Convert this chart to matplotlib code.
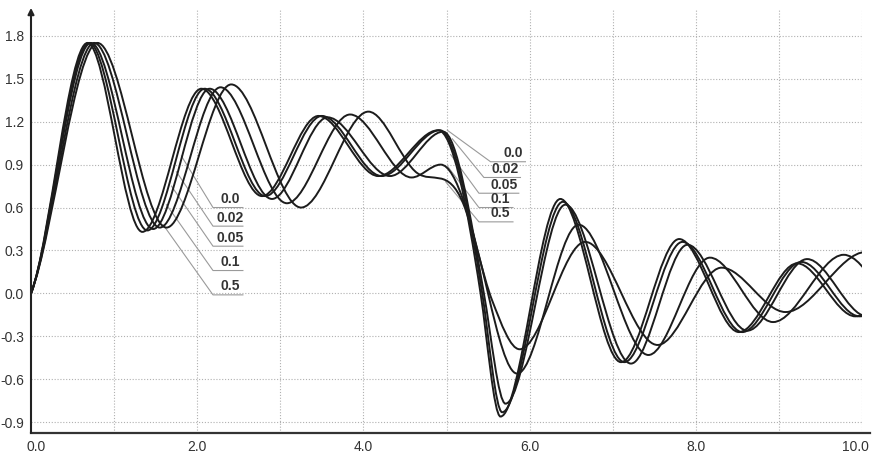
import matplotlib
matplotlib.use("Agg")
import matplotlib.pyplot as plt
from matplotlib.path import Path
from matplotlib.patches import PathPatch
from matplotlib.lines import Line2D
from matplotlib.transforms import ScaledTranslation

# Curve labels (parameter value of each response)
labels = ["0.0", "0.02", "0.05", "0.1", "0.5"]

# Knots of each response: time, value and slope (extrema have zero slope)
t_00 = [0.00, 0.68, 1.34, 2.05, 2.78, 3.46, 4.18, 4.90, 5.41, 5.65, 6.37, 7.10, 7.80, 8.52, 9.22, 9.92, 10.62]
y_00 = [0.00, 1.75, 0.43, 1.43, 0.68, 1.24, 0.82, 1.14, 0.00, -0.86, 0.66, -0.48, 0.38, -0.27, 0.21, -0.16, 0.12]
m_00 = [1.5, 0, 0, 0, 0, 0, 0, 0, -3.8, 0, 0, 0, 0, 0, 0, 0, 0]

t_02 = [0.00, 0.70, 1.40, 2.09, 2.82, 3.50, 4.22, 4.92, 5.43, 5.67, 6.40, 7.14, 7.84, 8.56, 9.27, 9.97, 10.67]
y_02 = [0.00, 1.75, 0.44, 1.43, 0.68, 1.24, 0.82, 1.14, 0.00, -0.83, 0.64, -0.48, 0.36, -0.27, 0.22, -0.16, 0.12]
m_02 = [1.5, 0, 0, 0, 0, 0, 0, 0, -3.7, 0, 0, 0, 0, 0, 0, 0, 0]

t_05 = [0.00, 0.72, 1.47, 2.15, 2.90, 3.57, 4.32, 4.96, 5.45, 5.71, 6.43, 7.22, 7.90, 8.62, 9.34, 10.06, 10.76]
y_05 = [0.00, 1.75, 0.45, 1.43, 0.66, 1.23, 0.82, 1.13, 0.00, -0.77, 0.62, -0.49, 0.34, -0.26, 0.24, -0.16, 0.12]
m_05 = [1.5, 0, 0, 0, 0, 0, 0, 0, -3.3, 0, 0, 0, 0, 0, 0, 0, 0]

t_1 = [0.00, 0.76, 1.55, 2.28, 3.08, 3.84, 4.58, 4.93, 5.50, 5.85, 6.59, 7.43, 8.17, 8.93, 9.78, 10.60]
y_1 = [0.00, 1.75, 0.46, 1.44, 0.63, 1.25, 0.81, 0.90, 0.00, -0.56, 0.48, -0.43, 0.25, -0.20, 0.27, -0.18]
m_1 = [1.5, 0, 0, 0, 0, 0, 0, 0, -2.5, 0, 0, 0, 0, 0, 0, 0]

t_5 = [0.00, 0.80, 1.63, 2.41, 3.25, 4.06, 4.65, 5.20, 5.55, 5.88, 6.67, 7.54, 8.31, 9.08, 10.05]
y_5 = [0.00, 1.75, 0.46, 1.46, 0.60, 1.27, 0.84, 0.63, -0.05, -0.39, 0.36, -0.36, 0.18, -0.13, 0.29]
m_5 = [1.5, 0, 0, 0, 0, 0, -0.4, -1.4, -1.5, 0, 0, 0, 0, 0, 0]

curves = [(t_00, y_00, m_00), (t_02, y_02, m_02), (t_05, y_05, m_05),
          (t_1, y_1, m_1), (t_5, y_5, m_5)]

# Axis ticks
x_ticks = [0, 1, 2, 3, 4, 5, 6, 7, 8, 9, 10]
x_tick_labels = ["0.0", "", "2.0", "", "4.0", "", "6.0", "", "8.0", "", "10.0"]
y_ticks = [-0.9, -0.6, -0.3, 0.0, 0.3, 0.6, 0.9, 1.2, 1.5, 1.8]
y_tick_labels = ["-0.9", "-0.6", "-0.3", "0.0", "0.3", "0.6", "0.9", "1.2", "1.5", "1.8"]

# Label callouts: leader start, leader end (underline start), underline end x
left_starts = [(1.81, 0.96), (1.75, 0.85), (1.69, 0.75), (1.63, 0.62), (1.59, 0.48)]
left_ends_y = [0.60, 0.47, 0.33, 0.16, -0.01]
left_end_x = 2.19
left_under_x = 2.55
left_text_x = 2.40

right_starts = [(5.01, 1.14), (5.07, 1.08), (5.05, 0.97), (5.01, 0.89), (4.99, 0.78)]
right_ends = [(5.53, 0.92), (5.45, 0.81), (5.39, 0.70), (5.39, 0.60), (5.39, 0.50)]
right_under_x = [5.95, 5.89, 5.87, 5.80, 5.80]
right_text_x = [5.80, 5.71, 5.69, 5.65, 5.65]


def smooth_path(ts, ys, ms):
    """Cubic Hermite knots expressed as a Bezier path."""
    verts = [(ts[0], ys[0])]
    codes = [Path.MOVETO]
    for i in range(len(ts) - 1):
        dt = ts[i + 1] - ts[i]
        verts += [(ts[i] + dt / 3, ys[i] + ms[i] * dt / 3),
                  (ts[i + 1] - dt / 3, ys[i + 1] - ms[i + 1] * dt / 3),
                  (ts[i + 1], ys[i + 1])]
        codes += [Path.CURVE4] * 3
    return Path(verts, codes)


plt.rcParams["font.family"] = ["Liberation Sans", "DejaVu Sans"]

fig = plt.figure(figsize=(8.78, 4.55), dpi=100)
ax = fig.add_axes([31 / 878, 22 / 455, 831 / 878, 423 / 455])
ax.set_xlim(0, 10)
ax.set_ylim(-0.975, 1.98)

grid_kw = dict(color="#b0b0b0", lw=0.8, linestyle=(0, (1, 1.6)), zorder=1)
for x in x_ticks[1:]:
    ax.axvline(x, **grid_kw)
for y in y_ticks:
    ax.axhline(y, **grid_kw)

for ts, ys, ms in curves:
    ax.add_patch(PathPatch(smooth_path(ts, ys, ms), fill=False,
                           edgecolor="#1c1c1c", lw=1.4, zorder=3))

lead_kw = dict(color="#9a9a9a", lw=0.8, zorder=2)
txt_kw = dict(fontsize=10, fontweight="bold", color="#333333",
              ha="center", va="bottom", zorder=4)
for lab, (sx, sy), ey in zip(labels, left_starts, left_ends_y):
    ax.plot([sx, left_end_x, left_under_x], [sy, ey, ey], **lead_kw)
    ax.text(left_text_x, ey + 0.01, lab, **txt_kw)
for lab, (sx, sy), (ex, ey), ux, tx in zip(labels, right_starts, right_ends,
                                           right_under_x, right_text_x):
    ax.plot([sx, ex, ux], [sy, ey, ey], **lead_kw)
    ax.text(tx, ey + 0.01, lab, **txt_kw)

ax.set_xticks(x_ticks)
ax.set_xticklabels(x_tick_labels)
ax.set_yticks(y_ticks)
ax.set_yticklabels(y_tick_labels)
ax.tick_params(length=0, labelsize=10, labelcolor="#333333")
ax.tick_params(axis="y", pad=5)
ax.tick_params(axis="x", pad=5)

# Nudge the first and last x labels so they sit inside the frame
xlabels = ax.get_xticklabels()
xlabels[0].set_transform(xlabels[0].get_transform()
                         + ScaledTranslation(5 / 100, 0, fig.dpi_scale_trans))
xlabels[-1].set_transform(xlabels[-1].get_transform()
                          + ScaledTranslation(-7 / 100, 0, fig.dpi_scale_trans))

for side in ["top", "right", "left", "bottom"]:
    ax.spines[side].set_visible(False)

# Axis lines: bottom line and y-axis with arrow head
ax.add_line(Line2D([0, 1.01], [0, 0], transform=ax.transAxes, color="#333333",
                   lw=1.6, clip_on=False, zorder=5))
ax.annotate("", xy=(0, 1.005), xytext=(0, 0), xycoords="axes fraction",
            arrowprops=dict(arrowstyle="-|>", color="#222222", lw=1.5,
                            mutation_scale=9, shrinkA=0, shrinkB=0),
            annotation_clip=False, zorder=5)

fig.savefig("out.png", dpi=100)
